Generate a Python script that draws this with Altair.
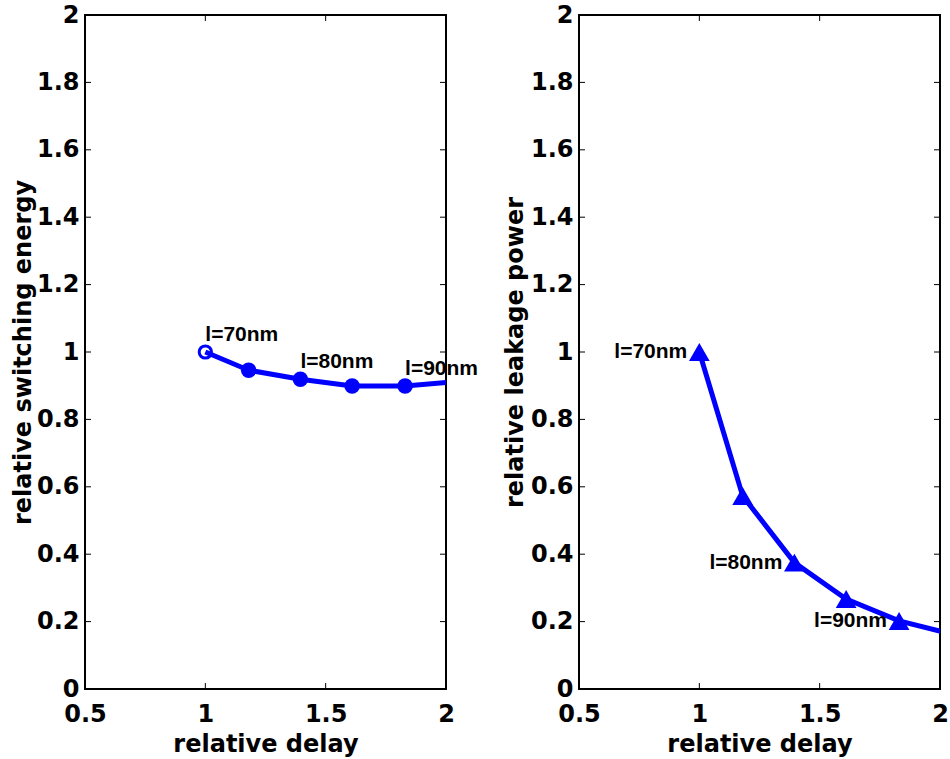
import altair as alt
import pandas as pd

# ---- data ----
delay = [1.0, 1.18, 1.395, 1.61, 1.83, 2.06]
switching_energy = [1.0, 0.946, 0.919, 0.899, 0.899, 0.913]
leakage_power = [1.0, 0.573, 0.375, 0.267, 0.202, 0.161]

label_text = ["l=70nm", "l=80nm", "l=90nm"]
left_label_x = [1.0, 1.395, 1.83]
left_label_y = [1.05, 0.969, 0.949]
right_label_x = [0.95, 1.345, 1.78]
right_label_y = [1.0, 0.375, 0.202]

x_ticks = [0.5, 1, 1.5, 2]
y_ticks = [0, 0.2, 0.4, 0.6, 0.8, 1, 1.2, 1.4, 1.6, 1.8, 2]

W, H = 361, 674
BLUE = "#0000ff"
FONT = "DejaVu Sans"


def xenc(field):
    return alt.X(
        f"{field}:Q",
        scale=alt.Scale(domain=[0.5, 2], nice=False, zero=False),
        axis=alt.Axis(values=x_ticks, format="~g", title="relative delay",
                      labelFlush=False, labelOverlap=False),
    )


def yenc(field, title, tpad):
    return alt.Y(
        f"{field}:Q",
        scale=alt.Scale(domain=[0, 2], nice=False, zero=False),
        axis=alt.Axis(values=y_ticks, format="~g", title=title,
                      labelOverlap=False, titlePadding=tpad),
    )


def panel(yvals, lx, ly, align, ytitle, marker, tpad):
    df = pd.DataFrame({"x": delay, "y": yvals, "i": list(range(len(delay)))})
    line = alt.Chart(df).mark_line(color=BLUE, strokeWidth=5, clip=True).encode(
        x=xenc("x"), y=yenc("y", ytitle, tpad))
    layers = [line]
    if marker == "circle":
        first = alt.Chart(df).transform_filter("datum.i == 0").mark_point(
            shape="circle", filled=False, color=BLUE, strokeWidth=3, size=150,
            opacity=1, clip=True).encode(x=xenc("x"), y=yenc("y", ytitle, tpad))
        rest = alt.Chart(df).transform_filter("datum.i > 0").mark_point(
            shape="circle", filled=True, color=BLUE, size=240, opacity=1,
            clip=True).encode(x=xenc("x"), y=yenc("y", ytitle, tpad))
        layers += [first, rest]
    else:
        tri = alt.Chart(df).mark_point(
            shape="triangle-up", filled=True, color=BLUE, size=430, opacity=1,
            clip=True).encode(x=xenc("x"), y=yenc("y", ytitle, tpad))
        layers.append(tri)

    ldf = pd.DataFrame({"lx": lx, "ly": ly, "t": label_text})
    text = alt.Chart(ldf).mark_text(
        align=align, baseline="middle", font="Liberation Sans",
        fontWeight="bold", fontSize=21, color="black").encode(
        x=xenc("lx"), y=yenc("ly", ytitle, tpad), text="t:N")
    layers.append(text)

    xt = pd.DataFrame({"xt": x_ticks})
    yt = pd.DataFrame({"yt": y_ticks})
    rule_kw = dict(color="black", strokeWidth=1)
    layers += [
        alt.Chart(xt).mark_rule(**rule_kw).encode(
            x=xenc("xt"), y=alt.value(H), y2=alt.value(H - 6)),
        alt.Chart(xt).mark_rule(**rule_kw).encode(
            x=xenc("xt"), y=alt.value(0), y2=alt.value(6)),
        alt.Chart(yt).mark_rule(**rule_kw).encode(
            y=yenc("yt", ytitle, tpad), x=alt.value(0), x2=alt.value(6)),
        alt.Chart(yt).mark_rule(**rule_kw).encode(
            y=yenc("yt", ytitle, tpad), x=alt.value(W - 6), x2=alt.value(W)),
    ]
    return alt.layer(*layers).properties(width=W, height=H)


left = panel(switching_energy, left_label_x, left_label_y, "left",
             "relative switching energy", "circle", 1)
right = panel(leakage_power, right_label_x, right_label_y, "right",
              "relative leakage power", "triangle", 3)

chart = alt.hconcat(left, right, spacing=133, bounds="flush").properties(
    padding={"left": 10, "top": 2, "right": 0, "bottom": 0},
    background="white",
).configure_view(
    stroke="black", strokeWidth=2, fill="white"
).configure_axis(
    labelFont=FONT, labelFontWeight="bold", labelFontSize=24, labelColor="black",
    titleFont=FONT, titleFontWeight="bold", titleFontSize=24, titleColor="black",
    ticks=False, domain=False, grid=False,
).configure_axisX(labelPadding=13, titlePadding=6).configure_axisY(
    labelPadding=6)

chart.save("out.html", embed_options={"renderer": "svg", "actions": False})
